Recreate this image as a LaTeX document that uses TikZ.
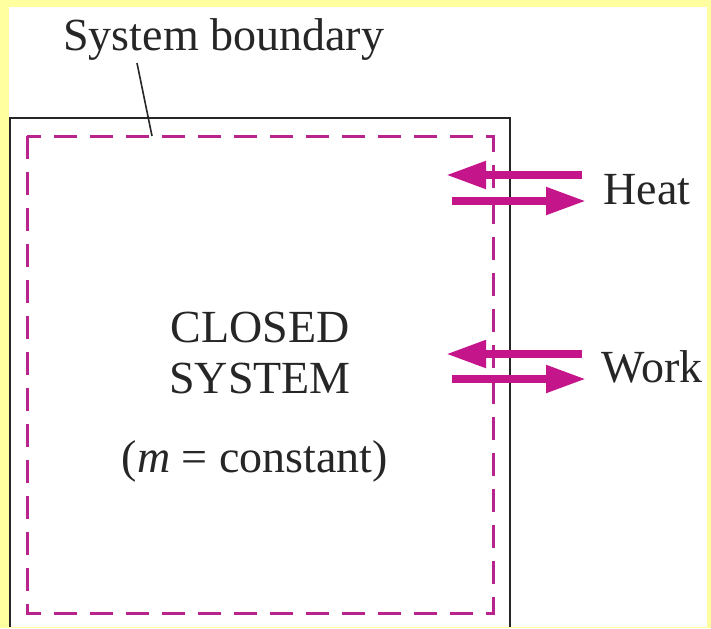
\documentclass[tikz,border=0pt]{standalone}
\usepackage{fontspec}
\setmainfont{Liberation Serif}
\usetikzlibrary{arrows.meta}
\definecolor{bgyellow}{RGB}{255,255,160}
\definecolor{arrowmag}{RGB}{196,22,138}
\definecolor{dashmag}{RGB}{184,36,140}
\tikzset{
  lbl/.style={inner sep=0pt, font=\fontsize{23}{27}\selectfont, text=black!85},
  flow/.style={draw=arrowmag, line width=4pt, -{Triangle[length=20pt,width=13pt]}},
  bnd/.style={draw=dashmag, line width=1.5pt, dash pattern=on 11.5pt off 6.5pt},
}
\begin{document}
\begin{tikzpicture}[x=0.5pt,y=-0.5pt]
\useasboundingbox (0,0) rectangle (711,628);
\fill[bgyellow] (0,0) rectangle (711,628);
\fill[white] (9,7) rectangle (707,627);
% system outer wall
\draw[line width=1pt, black!85] (10,627) -- (10,118) -- (510,118) -- (510,627);
% dashed system boundary
\draw[bnd] (27,136) rectangle (493,613);
% labels
\node[lbl, anchor=base west] (sb) at (63,50) {System boundary};
\coordinate (sbtop) at (137,63);
\coordinate (sbend) at (152,136);
\draw[line width=0.8pt, black!85] (sbtop) -- (sbend);
\node[lbl, anchor=base] (closed) at (260,342) {CLOSED};
\node[lbl, anchor=base] (system) at (260,393) {SYSTEM};
\node[lbl, anchor=base] (mconst) at (255,472) {(\textit{m} = constant)};
\node[lbl, anchor=base west] (heat) at (603,204) {Heat};
\node[lbl, anchor=base west] (work) at (601,382) {Work};
% heat arrows
\coordinate (h1a) at (582,175); \coordinate (h1b) at (446,175);
\coordinate (h2a) at (452,201); \coordinate (h2b) at (586,201);
\draw[flow] (h1a) -- (h1b);
\draw[flow] (h2a) -- (h2b);
% work arrows
\coordinate (w1a) at (582,354); \coordinate (w1b) at (446,354);
\coordinate (w2a) at (452,379); \coordinate (w2b) at (586,379);
\draw[flow] (w1a) -- (w1b);
\draw[flow] (w2a) -- (w2b);
\end{tikzpicture}
\end{document}
